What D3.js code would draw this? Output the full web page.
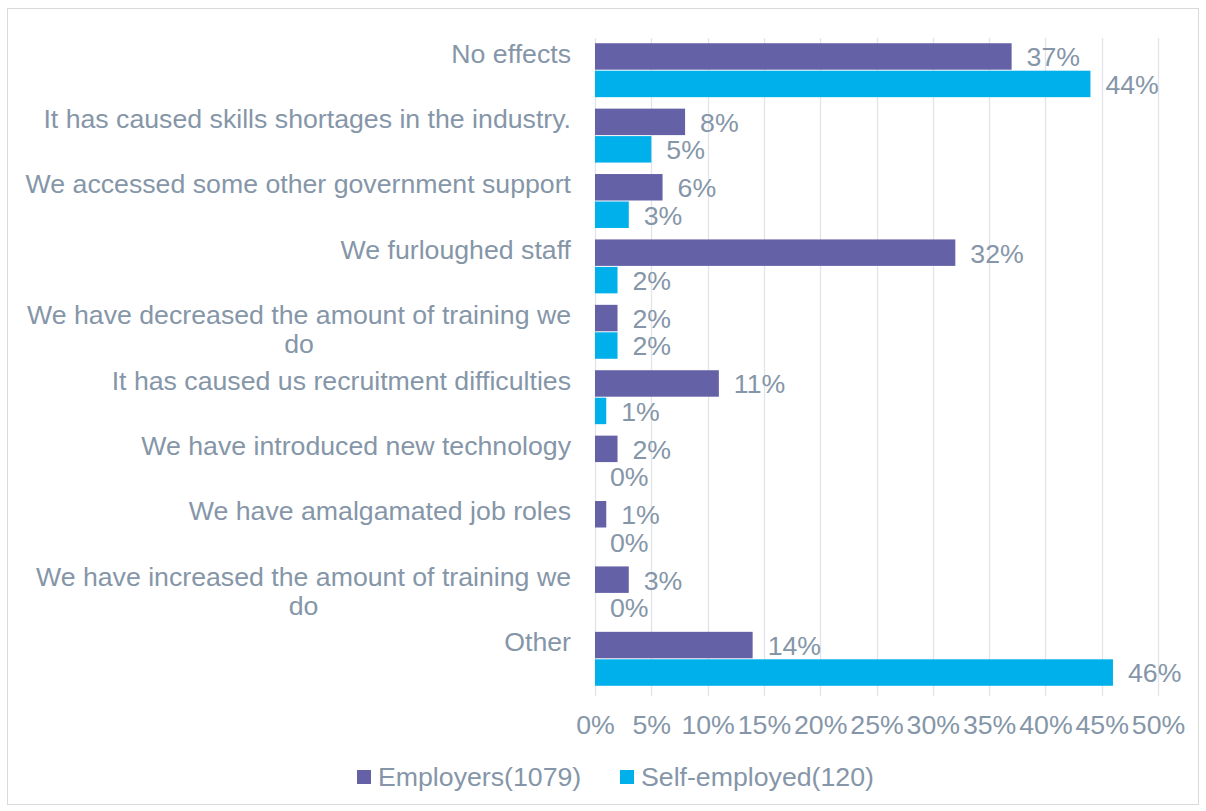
<!DOCTYPE html>
<html>
<head>
<meta charset="utf-8">
<script src="https://cdn.jsdelivr.net/npm/d3@7"></script>
<style>
  html, body { margin: 0; padding: 0; background: #fff; }
  svg text { font-family: "Liberation Sans", Arial, sans-serif; }
</style>
</head>
<body>
<svg id="chart" width="1206" height="811"></svg>
<script>
// Effects reported by respondents, share of each group (%)
const categories = [
  "No effects",
  "It has caused skills shortages in the industry.",
  "We accessed some other government support",
  "We furloughed staff",
  "We have decreased the amount of training we|do",
  "It has caused us recruitment difficulties",
  "We have introduced new technology",
  "We have amalgamated job roles",
  "We have increased the amount of training we|do",
  "Other"
];
const seriesNames = ["Employers(1079)", "Self-employed(120)"];
const employers    = [37, 8, 6, 32, 2, 11, 2, 1, 3, 14];
const selfEmployed = [44, 5, 3, 2, 2, 1, 0, 0, 0, 46];
const tickValues = [0, 5, 10, 15, 20, 25, 30, 35, 40, 45, 50];
const colors = ["#6461a7", "#00b0ea"];
const textColor = "#8596a8";
const fontSize = 26.7;

const svg = d3.select("#chart");

// outer chart frame
svg.append("rect")
  .attr("x", 7.5).attr("y", 8.5).attr("width", 1191).attr("height", 796)
  .attr("fill", "#fff").attr("stroke", "#d9d9d9").attr("stroke-width", 1);

const plot = { left: 595, right: 1158, top: 38, bottom: 692 };

const x = d3.scaleLinear().domain([0, 50]).range([plot.left, plot.right]);
const y = d3.scaleBand().domain(d3.range(categories.length))
  .range([plot.top, plot.bottom]).paddingInner(0.16).paddingOuter(0.08);
const sub = d3.scaleBand().domain([0, 1]).range([0, y.bandwidth()]);

// vertical gridlines
svg.append("g").selectAll("line").data(tickValues).join("line")
  .attr("x1", d => Math.round(x(d)) + 0.5).attr("x2", d => Math.round(x(d)) + 0.5)
  .attr("y1", plot.top).attr("y2", plot.bottom + 4)
  .attr("stroke", "#e1e4ea").attr("stroke-width", 1.3);

// x axis tick labels
const xAxis = d3.axisBottom(x).tickValues(tickValues).tickSize(0).tickPadding(0)
  .tickFormat(d => d + "%");
const gx = svg.append("g").attr("transform", `translate(0,${plot.bottom + 33})`).call(xAxis);
gx.select(".domain").remove();
gx.selectAll("text").attr("font-size", fontSize).attr("fill", textColor)
  .attr("dy", "0.35em").attr("font-family", "Liberation Sans, Arial, sans-serif");

// bars and their value labels
const groups = [employers, selfEmployed];
groups.forEach((vals, s) => {
  svg.append("g").selectAll("rect").data(vals).join("rect")
    .attr("x", x(0))
    .attr("y", (d, i) => y(i) + sub(s))
    .attr("width", d => x(d) - x(0))
    .attr("height", sub.bandwidth() - 1)
    .attr("fill", colors[s]);

  svg.append("g").selectAll("text").data(vals).join("text")
    .attr("x", d => x(d) + 15)
    .attr("y", (d, i) => y(i) + sub(s) + sub.bandwidth() / 2)
    .attr("dy", "0.35em")
    .attr("font-size", fontSize).attr("fill", textColor)
    .text(d => d + "%");
});

// category labels, right aligned, wrapped lines hang from the band's middle
const lineH = 29;
const catG = svg.append("g");
categories.forEach((c, i) => {
  const lines = c.split("|");
  const cy = y(i) + y.bandwidth() / 2;
  const t = catG.append("text")
    .attr("font-size", fontSize).attr("fill", textColor).attr("text-anchor", "middle");
  lines.forEach((ln, k) => {
    t.append("tspan").attr("y", cy - 32 + lineH * k + lineH / 2).attr("dy", "0.35em").text(ln);
  });
});
// centre each line within the block, the block right-aligned at x=571
catG.selectAll("text").each(function() {
  const tspans = d3.select(this).selectAll("tspan");
  let maxW = 0;
  tspans.each(function() { maxW = Math.max(maxW, this.getComputedTextLength()); });
  tspans.attr("x", 571 - maxW / 2);
});

// legend
const legend = svg.append("g").attr("transform", "translate(0,777)");
const legX = [357, 620];
seriesNames.forEach((n, s) => {
  legend.append("rect").attr("x", legX[s]).attr("y", -7).attr("width", 14).attr("height", 14)
    .attr("fill", colors[s]);
  legend.append("text").attr("x", legX[s] + 21).attr("y", 0).attr("dy", "0.35em")
    .attr("font-size", fontSize).attr("fill", textColor).text(n);
});
</script>
</body>
</html>
